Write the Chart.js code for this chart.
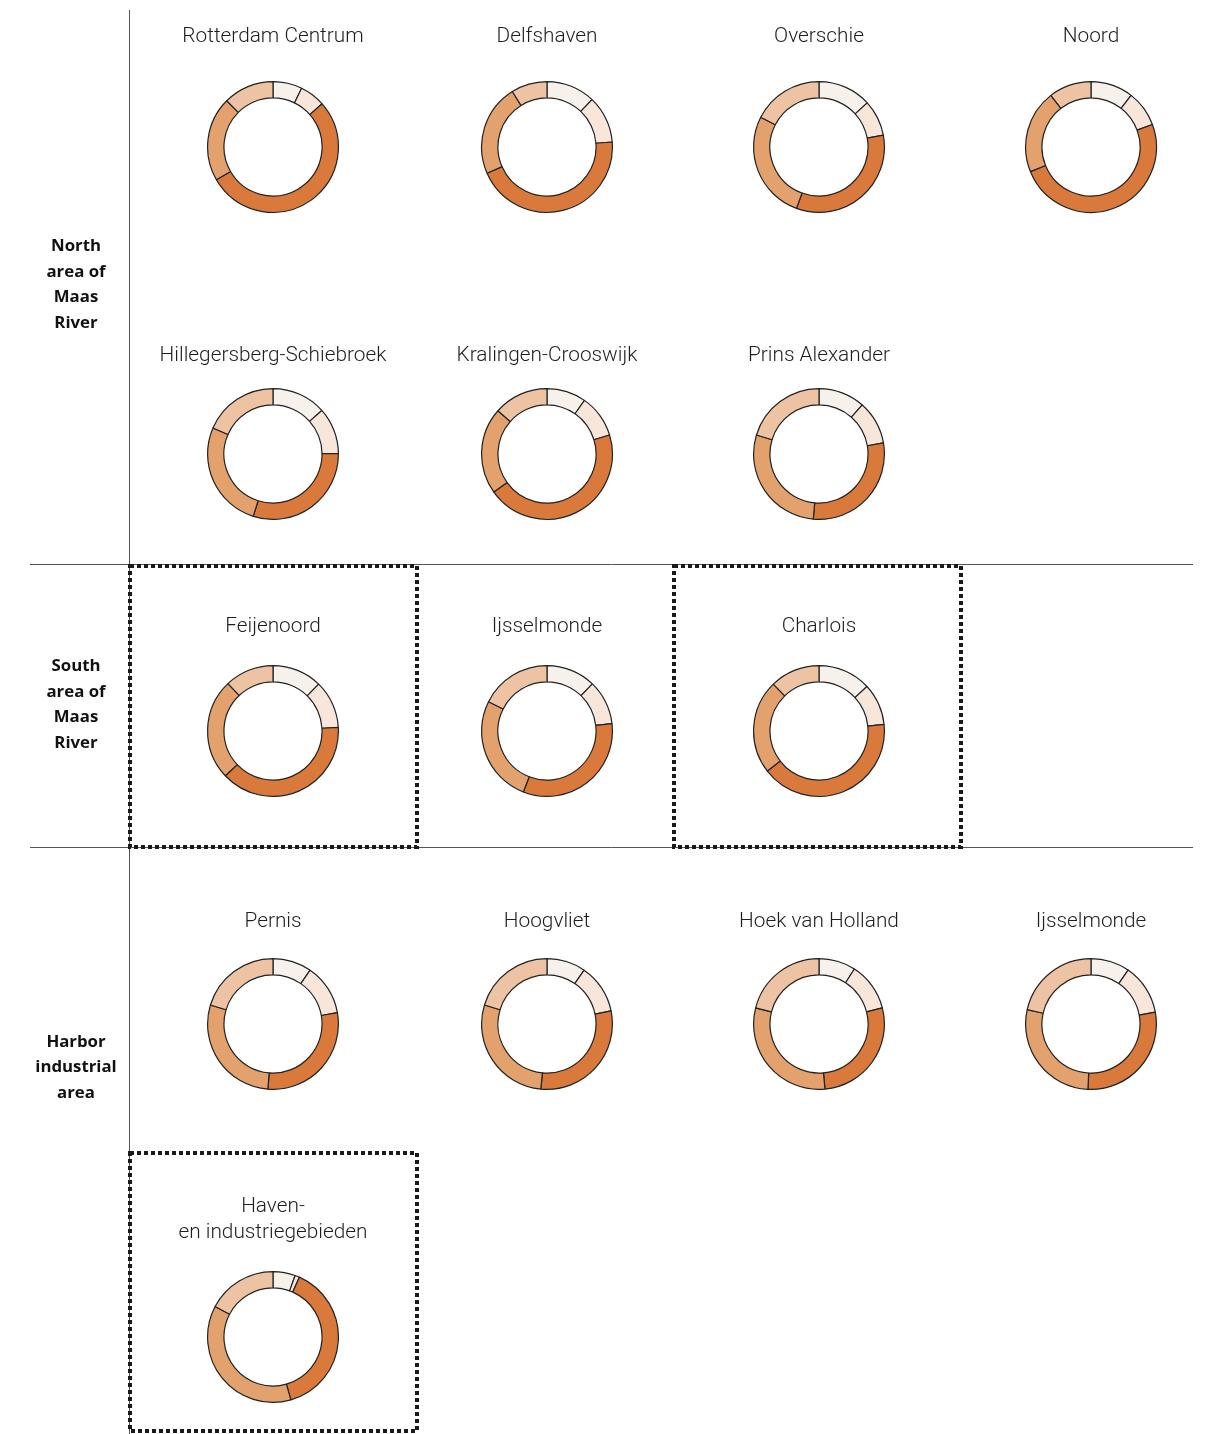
<!DOCTYPE html>
<html lang="en">
<head>
<meta charset="UTF-8">
<title>Rotterdam districts</title>
<script src="https://cdn.jsdelivr.net/npm/chart.js@4.4.1/dist/chart.umd.min.js"></script>
<style>
  html, body { margin: 0; padding: 0; background: #fff; }
  #page { position: relative; width: 1205px; height: 1434px; overflow: hidden; }
  #frame { position: absolute; left: 0; top: 0; }
  .title {
    position: absolute; width: 280px; text-align: center;
    font-family: "Roboto", "Liberation Sans", sans-serif; font-weight: 300;
    font-size: 20.8px; color: #1e1e1e; line-height: 26px;
  }
  .group {
    position: absolute; width: 110px; text-align: center;
    font-family: "Open Sans", "Lato", sans-serif; font-weight: 700;
    font-size: 16.8px; color: #111; line-height: 25.5px;
  }
  .donut { position: absolute; }
</style>
</head>
<body>
<div id="page">
  <canvas id="frame" width="1205" height="1434"></canvas>
</div>

<script>
// districts, in reading order
const districts = [
  'Rotterdam Centrum', 'Delfshaven', 'Overschie', 'Noord',
  'Hillegersberg-Schiebroek', 'Kralingen-Crooswijk', 'Prins Alexander',
  'Feijenoord', 'Ijsselmonde', 'Charlois',
  'Pernis', 'Hoogvliet', 'Hoek van Holland', 'Ijsselmonde',
  'Haven-\nen industriegebieden'
];
const segmentLabels = ['Group 1', 'Group 2', 'Group 3', 'Group 4', 'Group 5'];

// share (%) of each segment per district, clockwise from 12 o'clock
const seg1 = [7.2, 12.1, 13.2, 10.5, 13.4, 9.7, 11.5, 12.3, 12.2, 13.1, 9.6, 9.6, 9.1, 9.6, 5.5];
const seg2 = [6.3, 11.7, 8.9, 8.9, 11.5, 10.6, 10.8, 11.8, 11.0, 10.3, 12.6, 12.2, 11.9, 12.5, 1.1];
const seg3 = [53.1, 44.7, 33.5, 49.4, 30.0, 44.8, 29.1, 38.9, 32.7, 41.1, 29.0, 29.7, 27.5, 28.7, 39.0];
const seg4 = [20.8, 22.7, 26.9, 20.6, 26.6, 21.4, 28.3, 24.9, 26.5, 23.2, 28.4, 28.2, 30.4, 27.8, 37.1];
const seg5 = [12.5, 8.9, 17.5, 10.5, 18.5, 13.5, 20.3, 12.1, 17.6, 12.3, 20.3, 20.3, 21.0, 21.5, 17.3];

const groups = ['North\narea of\nMaas\nRiver', 'South\narea of\nMaas\nRiver', 'Harbor\nindustrial\narea'];

const segColors = ['#f7f1ec', '#f9e6da', '#d97a3c', '#e3a26d', '#eec3a3'];

// layout: column / row slot of each district
const colX = [273, 547, 819, 1091];
const rowY = [147, 454, 731, 1024, 1337];
const titleY = [35, 354, 625, 920, 1218];
const slots = [
  [0, 0], [1, 0], [2, 0], [3, 0],
  [0, 1], [1, 1], [2, 1],
  [0, 2], [1, 2], [2, 2],
  [0, 3], [1, 3], [2, 3], [3, 3],
  [0, 4]
];
const groupY = [283, 703, 1066];

const page = document.getElementById('page');

// frame: separators and dotted boxes
const fc = document.getElementById('frame').getContext('2d');
fc.strokeStyle = '#555';
fc.lineWidth = 1;
fc.beginPath();
fc.moveTo(129.5, 10); fc.lineTo(129.5, 1434);
fc.moveTo(30, 564.5); fc.lineTo(1193, 564.5);
fc.moveTo(30, 847.5); fc.lineTo(1193, 847.5);
fc.stroke();

fc.strokeStyle = '#1a1a1a';
fc.lineWidth = 4;
fc.setLineDash([4, 3]);
[[130, 566, 417, 847], [674, 566, 961, 847], [130, 1153, 417, 1431]].forEach(b => {
  fc.strokeRect(b[0], b[1], b[2] - b[0], b[3] - b[1]);
});

groups.forEach((g, i) => {
  const d = document.createElement('div');
  d.className = 'group';
  d.innerHTML = g.split('\n').join('<br>');
  page.appendChild(d);
  d.style.left = (76 - 55) + 'px';
  d.style.top = (groupY[i] - d.offsetHeight / 2) + 'px';
});

const size = 134;

districts.forEach((name, i) => {
  const [c, r] = slots[i];

  const t = document.createElement('div');
  t.className = 'title';
  t.innerHTML = name.split('\n').join('<br>');
  page.appendChild(t);
  t.style.left = (colX[c] - 140) + 'px';
  t.style.top = (titleY[r] - t.offsetHeight / 2) + 'px';

  const cv = document.createElement('canvas');
  cv.className = 'donut';
  cv.width = size; cv.height = size;
  cv.style.width = size + 'px'; cv.style.height = size + 'px';
  cv.style.left = (colX[c] - size / 2) + 'px';
  cv.style.top = (rowY[r] - size / 2) + 'px';
  page.appendChild(cv);

  new Chart(cv.getContext('2d'), {
    type: 'doughnut',
    data: {
      labels: segmentLabels,
      datasets: [{
        data: [seg1[i], seg2[i], seg3[i], seg4[i], seg5[i]],
        backgroundColor: segColors,
        borderColor: '#222',
        borderWidth: 1.2,
        borderAlign: 'center'
      }]
    },
    options: {
      responsive: false,
      animation: false,
      cutout: '75%',
      layout: { padding: 1 },
      plugins: { legend: { display: false }, tooltip: { enabled: false } }
    }
  });
});
</script>
</body>
</html>
